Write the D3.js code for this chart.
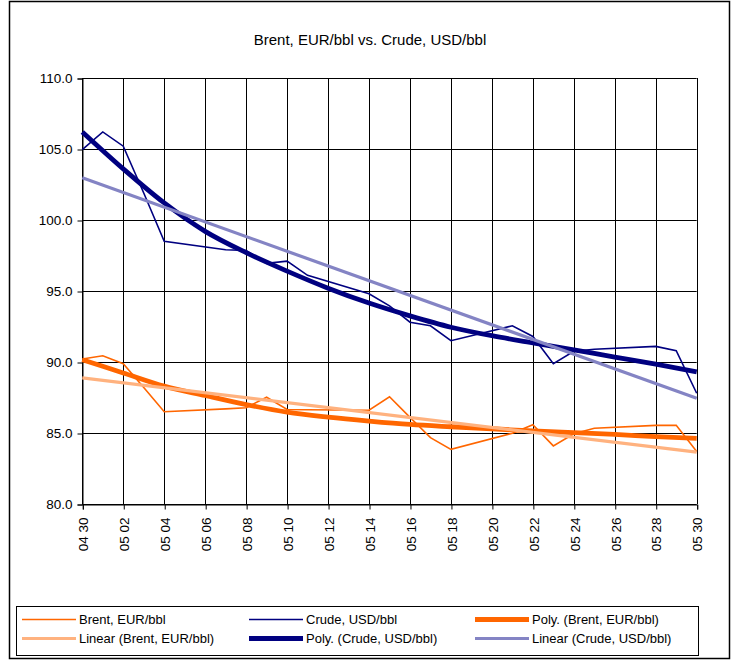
<!DOCTYPE html>
<html>
<head>
<meta charset="utf-8">
<script src="https://cdn.jsdelivr.net/npm/d3@7"></script>
<style>
  html, body { margin: 0; padding: 0; background: #fff; }
  svg { display: block; font-family: "Liberation Sans", Arial, sans-serif; }
</style>
</head>
<body>
<svg id="chart" width="732" height="661"></svg>
<script>
// ---- data (day index 0 = 04 30, 30 = 05 30) ----
const tradeDays = [0,1,2,3,4,7,8,9,10,11,14,15,16,17,18,21,22,23,24,25,28,29,30];
const brentEUR  = [90.21,90.44,89.88,88.2,86.5,86.7,86.78,87.52,86.66,86.64,86.6,87.55,86.1,84.67,83.85,84.98,85.58,84.09,84.95,85.33,85.54,85.54,83.7];
const crudeUSD  = [104.95,106.2,105.2,101.9,98.5,97.9,97.85,96.95,97.1,96.1,94.8,93.95,92.8,92.55,91.5,92.55,91.8,89.88,90.75,90.9,91.1,90.8,87.8];

const trendDays = [0,2,4,6,8,10,12,14,16,18,20,22,24,26,28,30];
const polyBrent = [90.16,89.23,88.3,87.64,87.0,86.47,86.12,85.84,85.6,85.44,85.3,85.14,85.02,84.9,84.74,84.62];
const polyCrude = [106.2,103.6,101.2,99.2,97.7,96.4,95.2,94.15,93.25,92.45,91.85,91.35,90.85,90.35,89.85,89.3];
const linearDays = [0,30];
const linearBrent = [88.88,83.65];
const linearCrude = [102.97,87.45];

const xTickDays = [0,2,4,6,8,10,12,14,16,18,20,22,24,26,28,30];
const xTickLabels = ["04 30","05 02","05 04","05 06","05 08","05 10","05 12","05 14","05 16","05 18","05 20","05 22","05 24","05 26","05 28","05 30"];
const yTicks = [80,85,90,95,100,105,110];

const title = "Brent, EUR/bbl vs. Crude, USD/bbl";
const legendItems = [
  {name:"Brent, EUR/bbl", color:"#FF6600", w:1.6},
  {name:"Crude, USD/bbl", color:"#000080", w:1.6},
  {name:"Poly. (Brent, EUR/bbl)", color:"#FF6600", w:4.8},
  {name:"Linear (Brent, EUR/bbl)", color:"#FFB27F", w:3.2},
  {name:"Poly. (Crude, USD/bbl)", color:"#000080", w:4.8},
  {name:"Linear (Crude, USD/bbl)", color:"#8484C4", w:3.2}
];

// ---- layout ----
const svg = d3.select("#chart");
const L = 82.3, R = 696.7, T = 78, B = 504;
const x = d3.scaleLinear().domain([0,30]).range([L,R]);
const y = d3.scaleLinear().domain([80,110]).range([B,T]);

// outer border
svg.append("rect").attr("x",9.5).attr("y",1.5).attr("width",720).attr("height",657)
  .attr("fill","#fff").attr("stroke","#000").attr("stroke-width",1.5);

// title
svg.append("text").attr("x",370).attr("y",45).attr("text-anchor","middle")
  .attr("font-size","15px").attr("fill","#000").text(title);

// gridlines
const g = svg.append("g");
g.selectAll("line.hg").data(yTicks).join("line")
  .attr("x1",L).attr("x2",R).attr("y1",d=>Math.round(y(d))+0.5).attr("y2",d=>Math.round(y(d))+0.5)
  .attr("stroke","#000").attr("stroke-width",1);
g.selectAll("line.vg").data(xTickDays).join("line")
  .attr("y1",T).attr("y2",B).attr("x1",d=>Math.round(x(d))+0.5).attr("x2",d=>Math.round(x(d))+0.5)
  .attr("stroke","#000").attr("stroke-width",1);

// axes
const yAxis = d3.axisLeft(y).tickValues(yTicks).tickFormat(d3.format(".1f")).tickSize(5).tickPadding(5);
const yg = svg.append("g").attr("transform",`translate(${Math.round(L)+0.5},0.5)`).call(yAxis);
yg.select(".domain").attr("stroke","#000");
yg.selectAll("text").attr("font-size","13.5px").attr("fill","#000").attr("font-family","Liberation Sans, Arial, sans-serif");

const xAxis = d3.axisBottom(x).tickValues(xTickDays).tickFormat((d,i)=>xTickLabels[i]).tickSize(5);
const xg = svg.append("g").attr("transform",`translate(0.5,${Math.round(B)+0.5})`).call(xAxis);
xg.select(".domain").attr("stroke","#000");
xg.selectAll("text").attr("font-size","13.5px").attr("fill","#000").attr("font-family","Liberation Sans, Arial, sans-serif")
  .attr("text-anchor","end").attr("transform","rotate(-90)")
  .attr("x",-13).attr("y",0).attr("dy","0.35em");

// lines
const line = d3.line().x(d=>x(d[0])).y(d=>y(d[1]));
const smooth = d3.line().x(d=>x(d[0])).y(d=>y(d[1])).curve(d3.curveMonotoneX);
const zip = (a,b)=>a.map((v,i)=>[v,b[i]]);
const plot = svg.append("g");
plot.append("path").attr("d",line(zip(tradeDays,brentEUR))).attr("fill","none").attr("stroke","#FF6600").attr("stroke-width",1.6);
plot.append("path").attr("d",line(zip(tradeDays,crudeUSD))).attr("fill","none").attr("stroke","#000080").attr("stroke-width",1.6);
plot.append("path").attr("d",smooth(zip(trendDays,polyBrent))).attr("fill","none").attr("stroke","#FF6600").attr("stroke-width",4.8);
plot.append("path").attr("d",line(zip(linearDays,linearBrent))).attr("fill","none").attr("stroke","#FFB27F").attr("stroke-width",3.2);
plot.append("path").attr("d",smooth(zip(trendDays,polyCrude))).attr("fill","none").attr("stroke","#000080").attr("stroke-width",4.8);
plot.append("path").attr("d",line(zip(linearDays,linearCrude))).attr("fill","none").attr("stroke","#8484C4").attr("stroke-width",3.2);

// legend
const lg = svg.append("g");
lg.append("rect").attr("x",16.5).attr("y",606.5).attr("width",682).attr("height",49)
  .attr("fill","#fff").attr("stroke","#000").attr("stroke-width",1);
const colX = [22, 249, 475];
const rowY = [619.5, 638.5];
legendItems.forEach((it,i)=>{
  const cx = colX[i%3], cy = rowY[Math.floor(i/3)];
  lg.append("line").attr("x1",cx).attr("x2",cx+54).attr("y1",cy).attr("y2",cy)
    .attr("stroke",it.color).attr("stroke-width",it.w);
  lg.append("text").attr("x",cx+57).attr("y",cy).attr("dy","0.35em")
    .attr("font-size","13px").attr("fill","#000").text(it.name);
});
</script>
</body>
</html>
